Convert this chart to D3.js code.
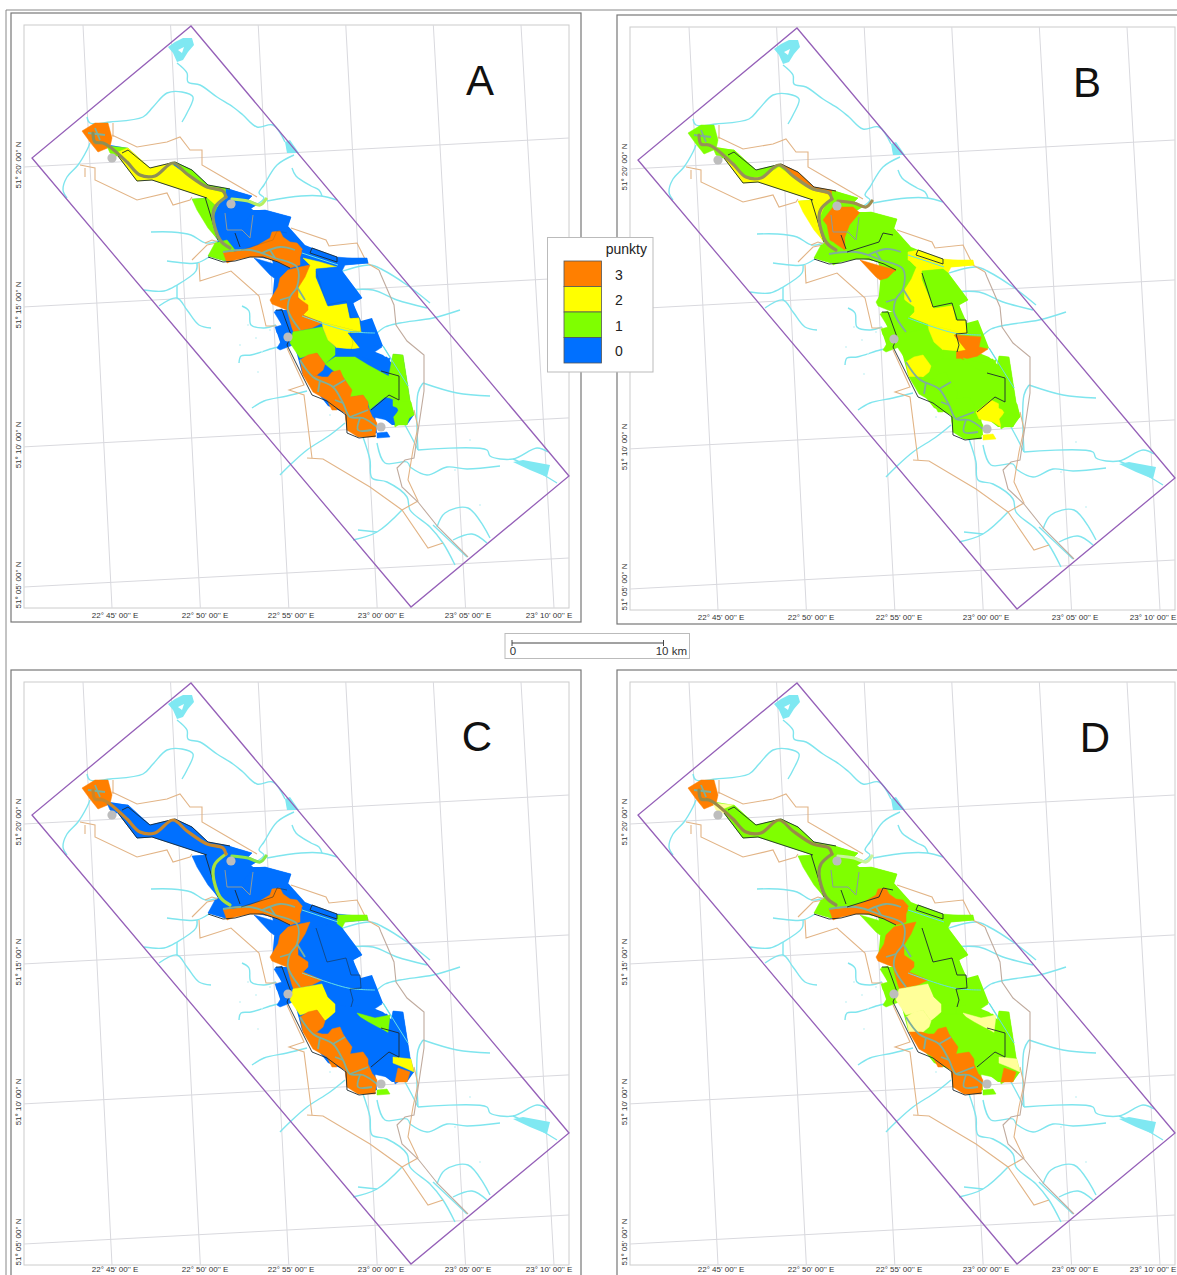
<!DOCTYPE html>
<html><head><meta charset="utf-8">
<style>html,body{margin:0;padding:0;background:#fff}svg{display:block}text{font-family:"Liberation Sans",Arial,sans-serif}</style>
<script src="https://cdn.jsdelivr.net/npm/d3@7/dist/d3.min.js"></script>
</head><body><svg id="c" width="1177" height="1275"></svg>
<script>
// All geometry is in map units (shared by the four panels)
const silhouette=[[110,145],[128,148],[150,168],[175,162],[192,170],[208,185],[230,189],[242,193],[252,196],[248,200],[258,204],[248,210],[265,210],[291,217],[288,226],[305,245],[342,260],[342,271],[360,295],[362,298],[353,303],[361,321],[372,318],[383,346],[373,351],[383,355],[392,363],[393,354],[403,355],[410,400],[414,415],[407,425],[392,425],[383,418],[375,415],[377,433],[362,437],[347,430],[345,413],[328,406],[302,373],[292,336],[282,348],[276,330],[282,326],[275,310],[288,310],[272,303],[275,270],[272,260],[248,255],[225,261],[208,256],[218,241],[192,199],[207,198],[152,180],[137,181],[118,156]];
const silhouetteScore=[0,1,0,1];
const regionNames=["head","link","stripNW","southCorr","northStrip","neJunction","westWedge","centerNorth","centerEast","westLittle","armNorth","neStrip","neTip","yellowCenter","eastBlock","southPatch","westBank","townWest","midGreen","eastMid","eastPeak","eastLow","eastLowPatch","eastStrip","seGreen","northSouth","southOrange","star","seYellow","seOrange","tail"];
const scoresA=[3,1,2,2,1,0,1,0,0,1,3,0,0,2,0,0,3,0,1,2,0,0,0,1,1,3,3,0,1,1,0];
const scoresB=[1,1,1,2,3,1,2,3,1,1,1,2,2,2,1,3,1,1,1,2,3,1,1,1,1,2,1,2,1,1,2];
const scoresC=[3,0,0,0,0,0,0,0,0,0,3,0,1,0,0,0,3,0,2,0,0,0,1,0,0,3,3,0,2,3,1];
const scoresD=[3,"p",1,1,1,1,1,1,1,1,3,1,1,1,1,1,3,1,"p",1,1,1,"p",1,1,"p",3,1,"p",3,1];
const regionShapes=[
[[82,131],[95,123],[108,123],[112,138],[110,147],[98,152],[90,142]],
[[107,146],[128,148],[132,154],[122,156],[115,156],[110,153]],
[[118,152],[128,148],[150,168],[175,162],[170,168],[157,176],[140,176],[127,163]],
[[118,156],[123,158],[140,176],[157,175],[173,165],[187,175],[207,188],[226,193],[217,207],[207,198],[152,180],[137,181]],
[[175,162],[192,170],[208,185],[230,189],[226,193],[207,188],[187,174]],
[[226,189],[242,193],[252,196],[248,200],[258,204],[248,210],[232,202],[226,197]],
[[192,199],[207,198],[217,207],[213,217],[219,241],[208,228],[197,210]],
[[217,218],[227,205],[247,205],[254,211],[244,223],[239,236],[239,248],[224,238],[221,223]],
[[254,211],[265,210],[291,217],[288,226],[277,231],[273,240],[241,250],[239,236],[244,223]],
[[208,256],[215,243],[227,240],[235,250],[225,261]],
[[223,252],[233,252],[250,248],[258,245],[270,238],[272,232],[280,231],[283,237],[290,242],[297,243],[303,250],[300,257],[300,265],[290,268],[278,262],[263,257],[250,257],[235,260],[227,263]],
[[302,250],[312,248],[337,257],[367,260],[368,263],[343,265],[337,267],[302,258]],
[[337,258],[367,258],[368,263],[345,265],[342,271],[337,267]],
[[303,258],[320,262],[337,267],[316,269],[316,277],[328,306],[347,303],[350,318],[359,318],[361,332],[322,322],[303,315],[308,308],[298,297],[298,288],[300,282],[310,265]],
[[316,269],[337,267],[342,271],[360,295],[362,298],[353,303],[357,317],[350,318],[347,303],[328,306],[316,277]],
[[254,258],[271,263],[290,268],[285,275],[274,278],[270,275]],
[[280,278],[288,270],[300,267],[310,265],[305,277],[298,288],[298,298],[308,305],[308,310],[303,315],[322,323],[312,328],[293,332],[287,310],[272,304],[270,300],[278,287]],
[[274,312],[282,309],[293,332],[288,335],[293,345],[280,350],[277,348],[283,338],[277,333],[275,327],[282,325]],
[[293,332],[322,327],[328,340],[335,347],[335,355],[325,364],[317,353],[300,358],[290,343]],
[[322,322],[360,332],[348,333],[360,348],[357,349],[337,348],[328,340],[323,328]],
[[348,333],[375,335],[373,345],[382,347],[370,355],[350,360],[350,350],[360,348]],
[[337,348],[350,350],[350,360],[370,355],[377,357],[387,357],[390,363],[388,377],[382,377],[372,367],[355,357],[337,358]],
[[357,356],[375,361],[390,358],[388,376],[380,371],[368,370]],
[[393,354],[403,355],[410,400],[414,415],[395,427],[393,417],[398,410],[388,380]],
[[325,364],[335,357],[355,357],[368,365],[390,377],[400,383],[398,402],[390,398],[385,397],[370,410],[368,402],[363,395],[350,397],[347,383],[340,372],[335,372]],
[[300,360],[308,355],[317,353],[325,364],[323,370],[317,375],[303,375]],
[[315,375],[322,377],[328,377],[332,372],[340,370],[343,377],[347,383],[352,390],[350,397],[363,395],[368,402],[368,407],[373,417],[377,423],[375,437],[358,437],[347,430],[345,413],[335,407],[337,410],[332,410],[327,400],[313,392],[303,375]],
[[370,410],[385,398],[393,402],[398,411],[393,417],[395,425],[387,420],[373,417]],
[[393,400],[411,402],[414,415],[403,410],[393,406]],
[[395,425],[398,411],[410,415],[407,425]],
[[377,433],[387,432],[390,437],[377,438]]
];
const rivers=[
[[177,63],[187,73],[188,82],[200,85],[217,97],[233,107],[243,115],[257,127],[273,125],[285,142]],
[[87,117],[90,123],[110,122],[143,117],[153,107],[167,93],[182,92],[193,97],[187,113],[182,122]],
[[90,143],[87,150],[78,165],[67,177],[63,190],[67,198]],
[[294,155],[277,165],[264,185],[259,193],[264,198],[256,205]],
[[267,201],[301,196],[321,196],[337,200]],
[[292,168],[296,176],[311,186],[319,190],[322,196]],
[[151,232],[171,232],[191,235],[206,243],[221,240]],
[[167,261],[184,263],[197,263],[209,257]],
[[144,290],[164,291],[177,285],[196,271],[197,263]],
[[159,306],[177,298],[187,310],[199,325],[211,328]],
[[177,285],[177,298]],
[[242,306],[249,311],[251,325],[264,328],[276,325]],
[[239,363],[241,356],[251,355],[274,348],[284,346]],
[[252,408],[264,401],[287,396],[307,391]],
[[375,335],[385,327],[400,323],[433,318],[460,310]],
[[340,272],[370,265],[383,270],[407,285],[430,303]],
[[348,290],[373,290],[397,300],[427,308]],
[[423,383],[457,393],[490,396]],
[[418,450],[487,450],[490,456],[513,459],[537,448],[548,452]],
[[513,459],[530,467],[557,483]],
[[410,467],[427,475],[447,467],[467,469],[500,466]],
[[363,437],[370,460],[372,478],[387,482],[407,497],[410,510],[430,527],[443,543],[455,565]],
[[377,443],[385,463],[407,462],[410,467]],
[[353,540],[377,532],[402,510]],
[[358,530],[377,532]],
[[437,527],[445,513],[468,508],[490,538]],
[[453,540],[472,534],[487,543]],
[[433,525],[467,557]],
[[345,423],[330,435],[307,450],[290,465],[280,475]],
[[405,425],[412,438],[418,450]],
[[423,383],[418,393],[418,450]],
[[302,316],[348,331],[375,333]],
[[383,346],[408,386]],
[[302,253],[338,265]]
];
const lakes=[
[[168,47],[175,42],[183,38],[192,38],[194,45],[188,52],[183,60],[177,62],[173,53]],
[[285,142],[290,140],[299,153],[287,153]],
[[513,462],[523,460],[550,465],[547,477],[530,470]]
];
const lakeIslands=[[[178,50],[184,47],[182,53]]];
const ponds=[[256,338],[262,352],[248,325],[270,330],[240,345],[258,372],[330,415],[455,470],[470,440],[480,505]];
const districts=[
[[112,135],[137,147],[167,142],[180,137],[190,150],[202,150],[202,165],[233,183],[257,197]],
[[291,228],[326,240],[329,246],[357,243],[367,263],[379,270]],
[[80,165],[95,168],[95,180],[137,200],[167,193],[173,205],[190,200],[192,197]],
[[85,168],[85,177]],
[[192,260],[207,245],[217,243]],
[[199,263],[200,281],[231,271],[259,296],[266,326],[277,326]],
[[287,348],[304,385],[289,390],[304,395],[312,458]],
[[307,458],[323,459],[370,487],[402,510],[428,548],[443,543]],
[[402,510],[418,501],[408,480],[413,450],[418,427],[414,410]],
[[113,123],[113,137]],
[[205,243],[212,240],[222,243]]
];
const boundary=[[379,270],[381,275],[394,305],[396,325],[407,341],[424,355],[424,391],[414,458],[405,460],[397,468],[402,487],[418,502],[438,527],[468,557]];
const darkLines=[
[[122,153],[128,150],[150,168],[175,162],[192,170],[208,185],[230,189]],
[[118,156],[137,181],[152,180],[207,198]],
[[205,197],[218,240]],
[[235,233],[240,247]],
[[208,257],[223,262],[235,261],[250,257],[263,257],[278,262],[290,268]],
[[276,310],[282,310],[291,335],[287,345],[301,373],[312,395],[327,401],[346,415],[347,433],[359,438],[376,436]],
[[316,271],[327,305],[346,301],[351,318],[360,318],[361,331]],
[[381,371],[399,376],[399,400],[389,395],[371,410]],
[[312,248],[337,257],[337,262],[310,253],[312,248]],
[[241,250],[273,240],[277,231],[287,233]],
[[361,331],[350,332],[353,343],[351,350]]
];
const innerLineIndex=[6,9,10];
const innerLineOpacity=[0.15,1,0.6,1];
const grayLines=[[[225,213],[227,230],[242,230],[250,238],[253,215]]];
const bandUpper=[[93,133],[95,142],[103,143],[110,147],[127,162],[140,175],[155,176],[173,163],[187,174],[207,187],[223,191],[226,197]];
const bandLower=[[226,197],[215,207],[213,217],[220,240],[230,248]];
const bandBranch=[[232,199],[248,201],[260,205],[266,199]];
const netLines=[
[[223,252],[250,250],[275,258],[297,267],[297,287],[290,297],[288,310],[300,330]],
[[300,360],[313,377],[333,387],[343,403],[350,417],[363,418],[377,427]],
[[95,128],[100,140]],[[88,133],[105,135]],
[[275,258],[270,250]],[[297,287],[305,300]],[[333,387],[345,380]],[[350,417],[368,410]],
[[262,253],[280,247],[295,250]],[[290,297],[280,300]],[[320,380],[318,392]],[[343,403],[335,400]],[[360,418],[358,430],[372,430]]
];
const bandUpperColors=["#8f8f55","#98905a","#c8872c","#9a8a48"];
const bandLowerColors=["#8f9a60","#98905a","#a9e23c","#8f8f55"];
const bandBranchColors=["#b5f060","#a08c50","#86e84a","#c8f59a"];
const towns=[[112,158],[231,204],[288,337],[381,427]];
const selectionBox=[[191,26],[569,476],[411,607],[32,158]];
const lonTicks=["22° 45' 00'' E","22° 50' 00'' E","22° 55' 00'' E","23° 00' 00'' E","23° 05' 00'' E","23° 10' 00'' E"];
const lonValues=[22.75,22.8333,22.9167,23,23.0833,23.1667];
const lonLabelMapLeft=[115,205,291,381,468,549];
const lonLabelMapRight=[115,205,293,380,469,547];
const lonLabelBase=[618,618,615,615];
const latTicks=["51° 20' 00'' N","51° 15' 00'' N","51° 10' 00'' N","51° 05' 00'' N"];
const latValues=[51.3333,51.25,51.1667,51.0833];
const panelNames=["A","B","C","D"];
const panelScores=[scoresA,scoresB,scoresC,scoresD];
const panelShiftX=[0,606,0,606];
const panelShiftY=[0,2,657,657];
const letterMapX=[480,481,477,489];
const letterMapY=[82,82,81,82];
const legendTitle="punkty";
const legendValues=[3,2,1,0];
const palette={3:"#ff7f00",2:"#ffff00",1:"#7fff00",0:"#0070ff",p:"#ffff99"};

const svg=d3.select("#c");
const lonTop=d3.scaleLinear().domain([22.75,23.1667]).range([83,521]);
const lonBottom=d3.scaleLinear().domain([22.75,23.1667]).range([112,554]);
const latLeft=d3.scaleLinear().domain([51.3333,51.0833]).range([167,587]);
const latRight=d3.scaleLinear().domain([51.3333,51.0833]).range([138,558]);
const clipX=[24,569],clipY=[25,608];

// outer frame
svg.append("path").attr("d","M1177,10H6V1275").attr("fill","none").attr("stroke","#888").attr("stroke-width",1);

panelNames.forEach((name,i)=>{
  const x=d3.scaleLinear().domain([0,1177]).range([panelShiftX[i],panelShiftX[i]+1177]);
  const y=d3.scaleLinear().domain([0,1275]).range([panelShiftY[i],panelShiftY[i]+1275]);
  const line=d3.line().x(d=>x(d[0])).y(d=>y(d[1]));
  const smooth=d3.line().x(d=>x(d[0])).y(d=>y(d[1])).curve(d3.curveCatmullRom.alpha(0.5));
  const closed=p=>line(p)+"Z";
  const g=svg.append("g");
  g.append("rect").attr("x",x(11)).attr("y",y(13)).attr("width",570).attr("height",609).attr("fill","#fff").attr("stroke","#777").attr("stroke-width",1.2);
  g.append("rect").attr("x",x(clipX[0])).attr("y",y(clipY[0])).attr("width",clipX[1]-clipX[0]).attr("height",clipY[1]-clipY[0]).attr("fill","#fff").attr("stroke","#ccc").attr("stroke-width",1);
  lonValues.forEach(v=>g.append("path").attr("d",line([[lonTop(v),clipY[0]],[lonBottom(v),clipY[1]]])).attr("stroke","#d9d9de").attr("fill","none"));
  latValues.forEach(v=>g.append("path").attr("d",line([[clipX[0],latLeft(v)],[clipX[1],latRight(v)]])).attr("stroke","#d9d9de").attr("fill","none"));
  const lonMap=i%2?lonLabelMapRight:lonLabelMapLeft;
  lonTicks.forEach((t,k)=>g.append("text").attr("x",x(lonMap[k])).attr("y",y(lonLabelBase[i])).attr("font-size",8).attr("text-anchor","middle").attr("fill","#333").text(t));
  latTicks.forEach((t,k)=>{
    const ty=latLeft(latValues[k])-2;
    g.append("text").attr("transform",`translate(${x(21)},${y(ty)}) rotate(-90)`).attr("font-size",8).attr("text-anchor","middle").attr("fill","#333").text(t);
  });
  const riverG=g.append("g").attr("fill","none").attr("stroke","#7fe5ee").attr("stroke-width",1.4).attr("stroke-linejoin","round");
  rivers.forEach(r=>riverG.append("path").attr("d",smooth(r)));
  lakes.forEach(l=>g.append("path").attr("d",closed(l)).attr("fill","#7fe8f2"));
  lakeIslands.forEach(l=>g.append("path").attr("d",closed(l)).attr("fill","#fff"));
  ponds.forEach(p=>g.append("circle").attr("cx",x(p[0])).attr("cy",y(p[1])).attr("r",0.9).attr("fill","#cdf4f6"));
  const dG=g.append("g").attr("fill","none").attr("stroke","#e2b486").attr("stroke-width",1.1);
  districts.forEach(r=>dG.append("path").attr("d",line(r)));
  g.append("path").attr("d",line(boundary)).attr("fill","none").attr("stroke","#c0ab9e").attr("stroke-width",1.1);
  g.append("path").attr("d",closed(selectionBox)).attr("fill","none").attr("stroke","#9560b8").attr("stroke-width",1.3);
  g.append("path").attr("d",closed(silhouette)).attr("fill",palette[silhouetteScore[i]]);
  regionShapes.forEach((s,k)=>g.append("path").attr("d",closed(s)).attr("fill",palette[panelScores[i][k]]).attr("stroke",palette[panelScores[i][k]]).attr("stroke-width",0.5).attr("stroke-linejoin","round"));
  const gr=g.append("g").attr("fill","none").attr("stroke","#8c9a9c").attr("stroke-width",1);
  grayLines.forEach(r=>gr.append("path").attr("d",line(r)));
  const net=g.append("g").attr("fill","none").attr("stroke","#7fb09a").attr("stroke-width",1.8).attr("stroke-linejoin","round");
  netLines.forEach(r=>net.append("path").attr("d",smooth(r)));
  const over=g.append("g").attr("fill","none").attr("stroke","#66e0e6").attr("stroke-width",1);
  rivers.slice(31).forEach(r=>over.append("path").attr("d",smooth(r)));
  const dk=g.append("g").attr("fill","none").attr("stroke","#1d2a30").attr("stroke-width",0.9).attr("stroke-linejoin","round");
  darkLines.forEach((r,k)=>dk.append("path").attr("d",line(r)).attr("opacity",innerLineIndex.includes(k)?innerLineOpacity[i]:1));
  const band=(pts,c)=>g.append("path").attr("d",smooth(pts)).attr("fill","none").attr("stroke",c).attr("stroke-width",3.2).attr("stroke-linejoin","round").attr("stroke-linecap","round");
  band(bandBranch,bandBranchColors[i]);
  band(bandLower,bandLowerColors[i]);
  band(bandUpper,bandUpperColors[i]);
  towns.forEach(t=>g.append("circle").attr("cx",x(t[0])).attr("cy",y(t[1])).attr("r",4.6).attr("fill","#bdbdbd"));
  g.append("text").attr("x",x(letterMapX[i])).attr("y",y(letterMapY[i]+13)).attr("font-size",42).attr("text-anchor","middle").attr("fill","#111").text(name);
});

// legend
const legendY=d3.scaleBand().domain(legendValues).range([261,363]);
const lg=svg.append("g");
lg.append("rect").attr("x",547.5).attr("y",237.5).attr("width",105.5).attr("height",134.5).attr("fill","#fff").attr("stroke","#bbb");
lg.append("text").attr("x",647).attr("y",254).attr("font-size",14).attr("text-anchor","end").attr("fill","#222").text(legendTitle);
legendValues.forEach(v=>{
  lg.append("rect").attr("x",564).attr("y",legendY(v)).attr("width",37.5).attr("height",legendY.bandwidth()).attr("fill",palette[v]).attr("stroke","#555").attr("stroke-width",0.8);
  lg.append("text").attr("x",619).attr("y",legendY(v)+legendY.bandwidth()/2+6).attr("font-size",14).attr("text-anchor","middle").attr("fill","#222").text(v);
});

// scale bar
const bar=svg.append("g");
const km=d3.scaleLinear().domain([0,10]).range([512,663.5]);
bar.append("rect").attr("x",505).attr("y",633.5).attr("width",184.5).attr("height",25).attr("fill","#fff").attr("stroke","#bbb");
bar.append("path").attr("d",`M${km(0)},640V646M${km(0)},643H${km(10)}M${km(10)},640V646`).attr("fill","none").attr("stroke","#444");
bar.append("text").attr("x",km(0)+1).attr("y",655).attr("font-size",11.5).attr("text-anchor","middle").attr("fill","#333").text("0");
bar.append("text").attr("x",687).attr("y",655).attr("font-size",11.5).attr("text-anchor","end").attr("fill","#333").text("10 km");
</script></body></html>
